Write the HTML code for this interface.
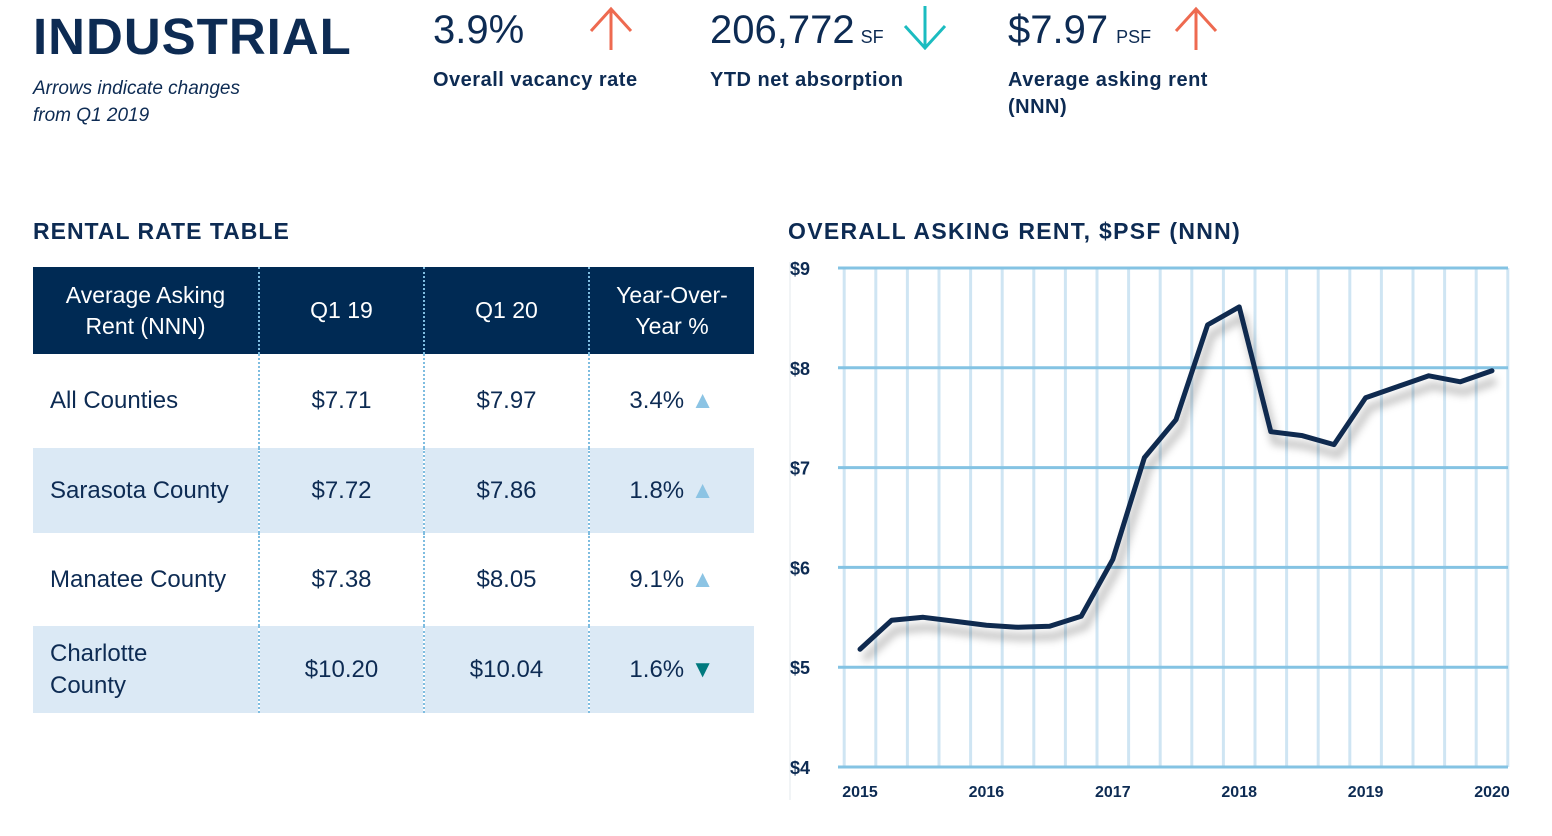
<!DOCTYPE html>
<html><head><meta charset="utf-8"><style>
*{margin:0;padding:0;box-sizing:border-box}
body{width:1552px;height:836px;background:#fff;font-family:"Liberation Sans",sans-serif;color:#0d2b53;position:relative;overflow:hidden}
.a{position:absolute;white-space:nowrap}
table{position:absolute;left:33px;top:267px;width:721px;border-collapse:collapse}
td{font-size:24px;color:#0d2b53;text-align:center;position:relative}
td.l{text-align:left;padding-left:17px}
th{background:#002a54;color:#fff;font-size:23px;font-weight:normal;line-height:31px;height:87px}
tr.b td{background:#dbe9f5}
.d{border-left:2px dotted #7fbde0}
.up{color:#8cc4e4;font-size:24px}
.dn{color:#00797e;font-size:24px}
</style></head><body>
<div class="a" style="left:33px;top:7px;font-size:51px;font-weight:bold;letter-spacing:1px">INDUSTRIAL</div>
<div class="a" style="left:33px;top:75px;font-size:19px;font-style:italic;line-height:27px">Arrows indicate changes<br>from Q1 2019</div>

<div class="a" style="left:433px;top:8px;font-size:40px">3.9%</div>
<svg class="a" style="left:586px;top:6px" width="50" height="46"><path d="M25 44V3M5 25L25 3L45 25" stroke="#ee6a50" stroke-width="3" fill="none"/></svg>
<div class="a" style="left:433px;top:69px;font-size:20px;font-weight:bold;letter-spacing:.5px">Overall vacancy rate</div>

<div class="a" style="left:710px;top:8px;font-size:40px">206,772<span style="font-size:18px;margin-left:6px">SF</span></div>
<svg class="a" style="left:900px;top:4px" width="50" height="46"><path d="M25 2V44M5 22L25 44L45 22" stroke="#1bbcc0" stroke-width="3" fill="none"/></svg>
<div class="a" style="left:710px;top:69px;font-size:20px;font-weight:bold;letter-spacing:.5px">YTD net absorption</div>

<div class="a" style="left:1008px;top:8px;font-size:40px">$7.97<span style="font-size:18px;margin-left:8px">PSF</span></div>
<svg class="a" style="left:1171px;top:6px" width="50" height="46"><path d="M25 44V3M5 25L25 3L45 25" stroke="#ee6a50" stroke-width="3" fill="none"/></svg>
<div class="a" style="left:1008px;top:67px;font-size:20px;font-weight:bold;letter-spacing:.5px;line-height:27px">Average asking rent<br>(NNN)</div>

<div class="a" style="left:33px;top:218px;font-size:23px;font-weight:bold;letter-spacing:1px">RENTAL RATE TABLE</div>
<table>
<tr><th style="width:226px">Average Asking<br>Rent (NNN)</th><th class="d" style="width:165px">Q1 19</th><th class="d" style="width:165px">Q1 20</th><th class="d">Year-Over-<br>Year %</th></tr>
<tr style="height:94px"><td class="l">All Counties</td><td class="d">$7.71</td><td class="d">$7.97</td><td class="d">3.4% <span class="up">▲</span></td></tr>
<tr class="b" style="height:85px"><td class="l">Sarasota County</td><td class="d">$7.72</td><td class="d">$7.86</td><td class="d">1.8% <span class="up">▲</span></td></tr>
<tr style="height:93px"><td class="l">Manatee County</td><td class="d">$7.38</td><td class="d">$8.05</td><td class="d">9.1% <span class="up">▲</span></td></tr>
<tr class="b" style="height:87px"><td class="l" style="line-height:32px">Charlotte<br>County</td><td class="d">$10.20</td><td class="d">$10.04</td><td class="d">1.6% <span class="dn">▼</span></td></tr>
</table>

<div class="a" style="left:788px;top:218px;font-size:23px;font-weight:bold;letter-spacing:1.3px">OVERALL ASKING RENT, $PSF (NNN)</div>
<svg id="chart" class="a" style="left:0;top:0" width="1552" height="836"><defs><filter id="blur"><feGaussianBlur stdDeviation="4"/></filter></defs></svg>
<script>
const quarters=["2015Q1","2015Q2","2015Q3","2015Q4","2016Q1","2016Q2","2016Q3","2016Q4","2017Q1","2017Q2","2017Q3","2017Q4","2018Q1","2018Q2","2018Q3","2018Q4","2019Q1","2019Q2","2019Q3","2019Q4","2020Q1"];
const rents=[5.18,5.47,5.50,5.46,5.42,5.40,5.41,5.51,6.08,7.10,7.48,8.43,8.61,7.36,7.32,7.23,7.70,7.81,7.92,7.86,7.97];
const yTicks=[4,5,6,7,8,9];
const yTickLabels=["$4","$5","$6","$7","$8","$9"];
const xLabels=["2015","2016","2017","2018","2019","2020"];
const ns="http://www.w3.org/2000/svg";
const svg=document.getElementById('chart');
const X0=860,X1=1492,Y0=767,Y1=268,YMIN=4,YMAX=9;
const step=(X1-X0)/(quarters.length-1);
const x=i=>X0+i*step;
const y=v=>Y0-(v-YMIN)/(YMAX-YMIN)*(Y0-Y1);
function mk(t,attrs){const e=document.createElementNS(ns,t);for(const k in attrs)e.setAttribute(k,attrs[k]);svg.appendChild(e);return e;}
const ax=mk('line',{x1:790,y1:262,x2:790,y2:800,stroke:'#e3e8ee','stroke-width':1});


for(let k=0;k<=quarters.length;k++){
  const vx=x(k)-step/2;
  const l=mk('line',{x1:vx,y1:Y1,x2:vx,y2:Y0,stroke:'#cfe5f3','stroke-width':3});
  
  
}
yTicks.forEach((t,i)=>{
  const l=mk('line',{x1:838,y1:y(t),x2:1508,y2:y(t),stroke:'#84c3e3','stroke-width':3});
  
  
  const tx=mk('text',{x:790,y:y(t)+7,'font-size':18,'font-weight':'bold',fill:'#0d2b53','font-family':'Liberation Sans'});
  tx.textContent=yTickLabels[i];
  
  
});
xLabels.forEach((s,i)=>{
  const tx=mk('text',{x:x(i*4),y:797,'font-size':16,'font-weight':'bold',fill:'#0d2b53','text-anchor':'middle','font-family':'Liberation Sans'});
  tx.textContent=s;
  
  
});
const pts=rents.map((v,i)=>x(i)+','+y(v)).join(' ');
const sh=mk('polyline',{points:pts,fill:'none',stroke:'rgba(0,0,0,0.22)','stroke-width':8,transform:'translate(4,10)','stroke-linejoin':'round',filter:'url(#blur)'});


const pl=mk('polyline',{points:pts,fill:'none',stroke:'#0f2a4f','stroke-width':5,'stroke-linejoin':'round','stroke-linecap':'round'});


</script>
</body></html>
